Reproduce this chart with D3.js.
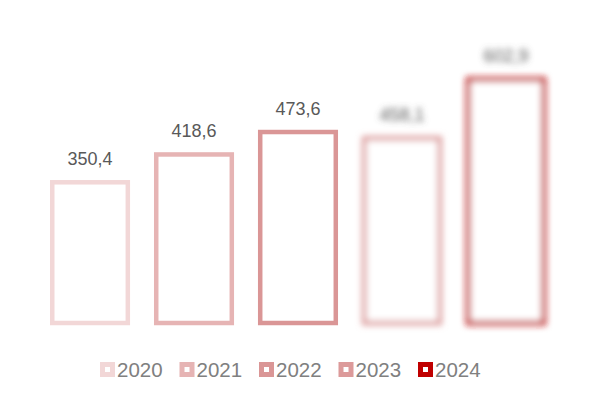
<!DOCTYPE html>
<html>
<head>
<meta charset="utf-8">
<script src="https://cdn.jsdelivr.net/npm/d3@7/dist/d3.min.js"></script>
<style>
  html, body { margin: 0; padding: 0; background: #ffffff; }
  svg { display: block; font-family: "Liberation Sans", Arial, sans-serif; }
</style>
</head>
<body>
<svg id="chart" width="600" height="400"></svg>
<script>
const years = ["2020", "2021", "2022", "2023", "2024"];
const values = [350.4, 418.6, 473.6, 458.1, 602.9];
const labels = ["350,4", "418,6", "473,6", "458,1", "602,9"];
const colors = ["#f2d7d7", "#e6b4b4", "#da9696", "#dc9a9a", "#c00000"];
const blurred = [false, false, false, true, true];

const svg = d3.select("#chart");
const defs = svg.append("defs");
defs.append("filter").attr("id", "blur")
  .attr("x", "-20%").attr("y", "-20%").attr("width", "140%").attr("height", "140%")
  .append("feGaussianBlur").attr("stdDeviation", 3);

const x = d3.scaleBand().domain(years).range([50, 546]).paddingInner(0.23).paddingOuter(0);
const y = d3.scaleLinear().domain([0, 700]).range([323, 323 - 700 * 0.408]);

const sw = 4.5;
const data = years.map((yr, i) => ({ yr, v: values[i], lab: labels[i], c: colors[i], b: blurred[i] }));

const g = svg.append("g");
const items = g.selectAll("g.bar").data(data).join("g")
  .attr("class", "bar")
  .attr("filter", d => d.b ? "url(#blur)" : null);

items.append("rect")
  .attr("x", d => x(d.yr) + sw / 2)
  .attr("y", d => y(d.v) + sw / 2)
  .attr("width", x.bandwidth() - sw)
  .attr("height", d => y(0) - y(d.v) - sw / 2)
  .attr("fill", "#ffffff")
  .attr("stroke", d => d.c)
  .attr("stroke-width", sw);

items.append("text")
  .attr("x", d => x(d.yr) + x.bandwidth() / 2)
  .attr("y", d => y(d.v) - 15)
  .attr("text-anchor", "middle")
  .attr("font-size", 18)
  .attr("fill", "#595959")
  .text(d => d.lab);

// legend
const legendX = d3.scalePoint().domain(years).range([100, 418]);
const leg = svg.append("g").selectAll("g").data(data).join("g")
  .attr("transform", d => `translate(${legendX(d.yr)},362)`);
leg.append("rect")
  .attr("x", 2.5).attr("y", 2.5).attr("width", 10).attr("height", 10)
  .attr("fill", "#ffffff")
  .attr("stroke", d => d.c)
  .attr("stroke-width", 5);
leg.append("text")
  .attr("x", 17).attr("y", 15)
  .attr("font-size", 20.5)
  .attr("fill", "#808080")
  .text(d => d.yr);
</script>
</body>
</html>
